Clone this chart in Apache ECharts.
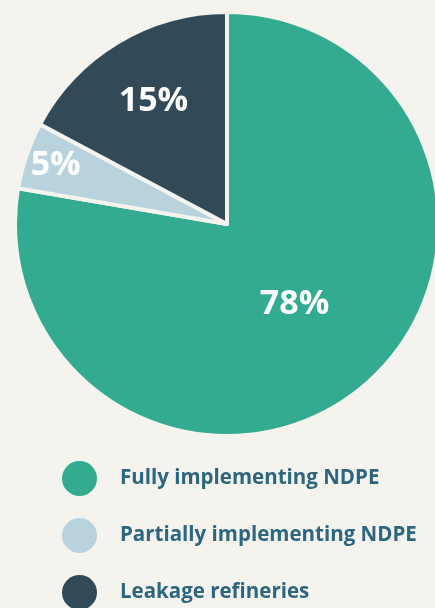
<!DOCTYPE html>
<html>
<head>
    <meta charset="utf-8">
    <title>NDPE pie</title>
    <script src="https://cdn.jsdelivr.net/npm/echarts@6/dist/echarts.min.js"></script>
    <style>
        html, body { margin: 0; padding: 0; background: #f4f3ed; }
    </style>
</head>
<body>
    <div id="main" style="width: 435px;height:608px;"></div>
    <script type="text/javascript">
    // slice data, clockwise from 12 o'clock
    var names = ['Fully implementing NDPE', 'Partially implementing NDPE', 'Leakage refineries'];
    var values = [77.7, 5.1, 17.2];
    var pctLabels = ['78%', '5%', '15%'];
    var colors = ['#32ab91', '#b8d3de', '#324a58'];
    // where the % text sits, as a fraction of the radius
    var labelRadius = [0.48, 0.84, 0.66];

    var R = 212;
    var total = values.reduce(function (a, b) { return a + b; }, 0);
    var acc = 0;
    var data = values.map(function (v, i) {
        var mid = (acc + v / 2) / total * Math.PI * 2;
        acc += v;
        var k = (labelRadius[i] - 0.5) * R;
        return {
            name: names[i],
            value: v,
            itemStyle: { color: colors[i] },
            label: { offset: [Math.sin(mid) * k, -Math.cos(mid) * k] }
        };
    });

    var myChart = echarts.init(document.getElementById('main'));
    var option = {
        backgroundColor: '#f4f3ed',
        animation: false,
        legend: {
            orient: 'vertical',
            left: 62,
            top: 461,
            height: 200,
            padding: 0,
            itemWidth: 35,
            itemHeight: 35,
            itemGap: 22,
            icon: 'circle',
            itemStyle: { borderWidth: 0 },
            textStyle: {
                fontFamily: 'Open Sans',
                fontWeight: 'bold',
                fontSize: 20.5,
                color: '#2d6680',
                padding: [0, 0, 0, 18]
            },
            data: names
        },
        series: [{
            type: 'pie',
            center: [227, 224],
            radius: R,
            startAngle: 90,
            clockwise: true,
            itemStyle: {
                borderColor: '#f4f3ed',
                borderWidth: 4
            },
            label: {
                position: 'inside',
                color: '#ffffff',
                fontFamily: 'Open Sans',
                fontWeight: 'bold',
                fontSize: 34,
                formatter: function (p) { return pctLabels[p.dataIndex]; }
            },
            labelLine: { show: false },
            emphasis: { disabled: true },
            data: data
        }]
    };
    myChart.setOption(option);
    </script>
</body>
</html>
